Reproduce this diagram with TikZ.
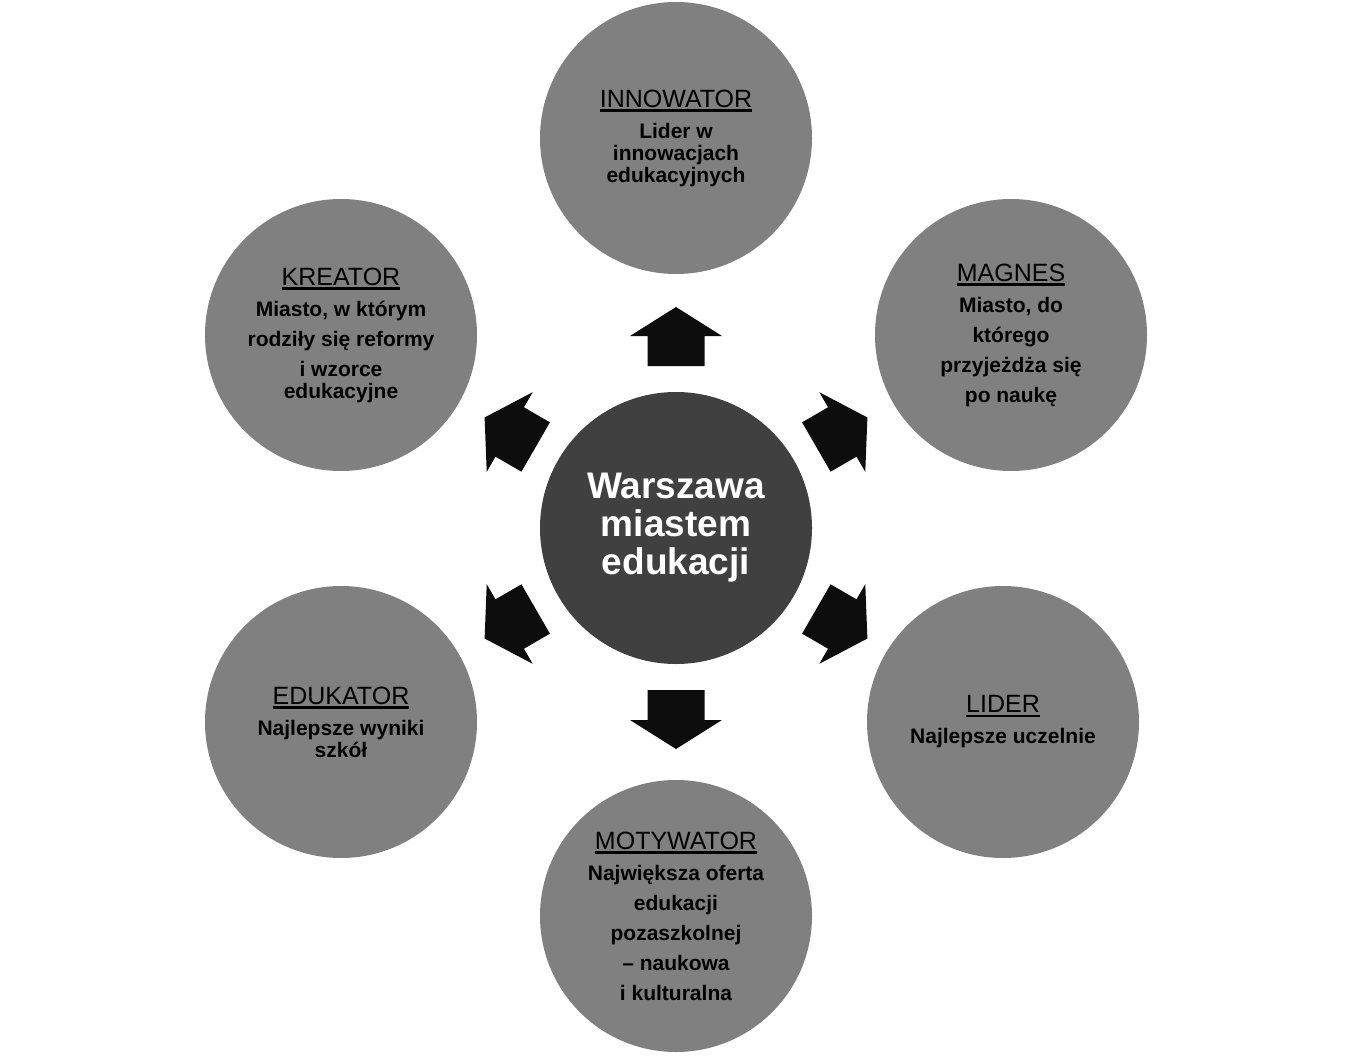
\documentclass[tikz,border=0pt]{standalone}
\usepackage{fontspec}
\setmainfont{Liberation Sans}
\definecolor{bubblegray}{HTML}{808080}
\definecolor{hubgray}{HTML}{404040}
\definecolor{arrowblack}{HTML}{0D0D0D}
% underlined role name on top of each bubble
\newcommand{\rolehead}[1]{{\fontsize{25}{26}\selectfont\mdseries\setbox0=\hbox{#1}\rlap{\rule[-4.5pt]{\wd0}{2.4pt}}\box0}}
\tikzset{
  bubble/.style={circle, fill=bubblegray, minimum size=272pt, inner sep=0pt, align=center, font=\fontsize{21}{22}\selectfont\bfseries},
  hub/.style={circle, fill=hubgray, minimum size=272pt, inner sep=0pt, align=center, text=white, font=\fontsize{37}{38}\selectfont\bfseries},
  blockarrow/.style={fill=arrowblack, draw=none}
}
\begin{document}
\begin{tikzpicture}[x=1pt, y=-1pt]
  \useasboundingbox (0,0) rectangle (1352,1057);
  \node[hub] (hub) at (676,528) {Warszawa\\miastem\\edukacji};
  \node[bubble] (innowator) at (676,138) {\rolehead{INNOWATOR}\\[9pt]Lider w\\innowacjach\\edukacyjnych};
  \node[bubble] (magnes) at (1011,335) {\rolehead{MAGNES}\\[9pt]Miasto, do\\[8pt]którego\\[8pt]przyjeżdża się\\[8pt]po naukę};
  \node[bubble] (lider) at (1003,722) {\rolehead{LIDER}\\[9pt]Najlepsze uczelnie};
  \node[bubble] (motywator) at (676,916) {\rolehead{MOTYWATOR}\\[9pt]Największa oferta\\[8pt]edukacji\\[8pt]pozaszkolnej\\[8pt]– naukowa\\[8pt]i kulturalna};
  \node[bubble] (edukator) at (341,722) {\rolehead{EDUKATOR}\\[9pt]Najlepsze wyniki\\szkół};
  \node[bubble] (kreator) at (341,335) {\rolehead{KREATOR}\\[9pt]Miasto, w którym\\[8pt]rodziły się reformy\\[8pt]i wzorce\\edukacyjne};
  % block arrows pointing out of the hub
  \foreach \ang in {90,30,-30,-90,-150,150}
    \fill[blockarrow, shift={(hub.center)}, rotate=\ang]
      (162,-28.5) -- (192,-28.5) -- (192,-46) -- (221,0) -- (192,46) -- (192,28.5) -- (162,28.5) -- cycle;
\end{tikzpicture}
\end{document}
